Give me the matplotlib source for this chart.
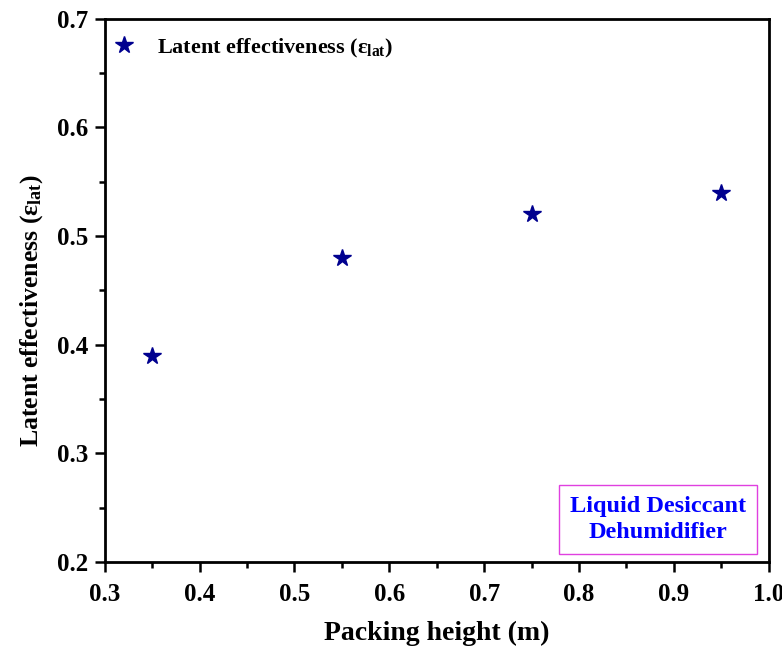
import matplotlib
matplotlib.use('Agg')
import matplotlib.pyplot as plt
from matplotlib.ticker import MultipleLocator

plt.rcParams['font.family'] = ['Liberation Serif', 'DejaVu Serif']
plt.rcParams['font.weight'] = 'bold'
plt.rcParams['mathtext.fontset'] = 'custom'
plt.rcParams['mathtext.rm'] = 'Liberation Serif:bold'
plt.rcParams['mathtext.it'] = 'Liberation Serif:bold'
plt.rcParams['mathtext.bf'] = 'Liberation Serif:bold'

# packing height vs latent effectiveness
height = [0.35, 0.55, 0.75, 0.95]
eff_lat = [0.39, 0.48, 0.52, 0.54]

fig = plt.figure(figsize=(7.82, 6.46), dpi=100)
ax = fig.add_axes([0.134, 0.130, 0.849, 0.841])

ax.plot(height, eff_lat, linestyle='none', marker='*', markersize=13,
        color='#00008f', label=r'Latent effectiveness ($\mathrm{\epsilon_{lat}}$)')

ax.set_xlim(0.3, 1.0)
ax.set_ylim(0.2, 0.7)
ax.xaxis.set_major_locator(MultipleLocator(0.1))
ax.xaxis.set_minor_locator(MultipleLocator(0.05))
ax.yaxis.set_major_locator(MultipleLocator(0.1))
ax.yaxis.set_minor_locator(MultipleLocator(0.05))
ax.xaxis.set_major_formatter(plt.FormatStrFormatter('%.1f'))
ax.yaxis.set_major_formatter(plt.FormatStrFormatter('%.1f'))
ax.tick_params(which='both', direction='out', top=False, right=False, width=1.8)
ax.tick_params(which='major', length=7, labelsize=18)
ax.tick_params(axis='x', which='major', pad=8)
ax.tick_params(axis='y', which='major', pad=5)
ax.tick_params(which='minor', length=4)
for s in ax.spines.values():
    s.set_linewidth(2)

ax.set_xlabel('Packing height (m)', fontsize=20, fontweight='bold', labelpad=11)
ax.set_ylabel(r'Latent effectiveness ($\mathrm{\epsilon_{lat}}$)', fontsize=18.5,
              fontweight='bold')
ax.yaxis.set_label_coords(-0.09, 0.462)

leg = ax.legend(loc='upper left', bbox_to_anchor=(-0.015, 1.0), frameon=False,
                fontsize=16, handletextpad=0.98, handlelength=1.0,
                borderaxespad=0.5, borderpad=0.3)

ax.text(0.833, 0.078, 'Liquid Desiccant\nDehumidifier', transform=ax.transAxes,
        ha='center', va='center', fontsize=17.5, fontweight='bold', color='#0000ff',
        linespacing=1.35,
        bbox=dict(boxstyle='square,pad=0.45', facecolor='white', edgecolor='#e040e0',
                  linewidth=1))

fig.savefig('out.png', dpi=100)
